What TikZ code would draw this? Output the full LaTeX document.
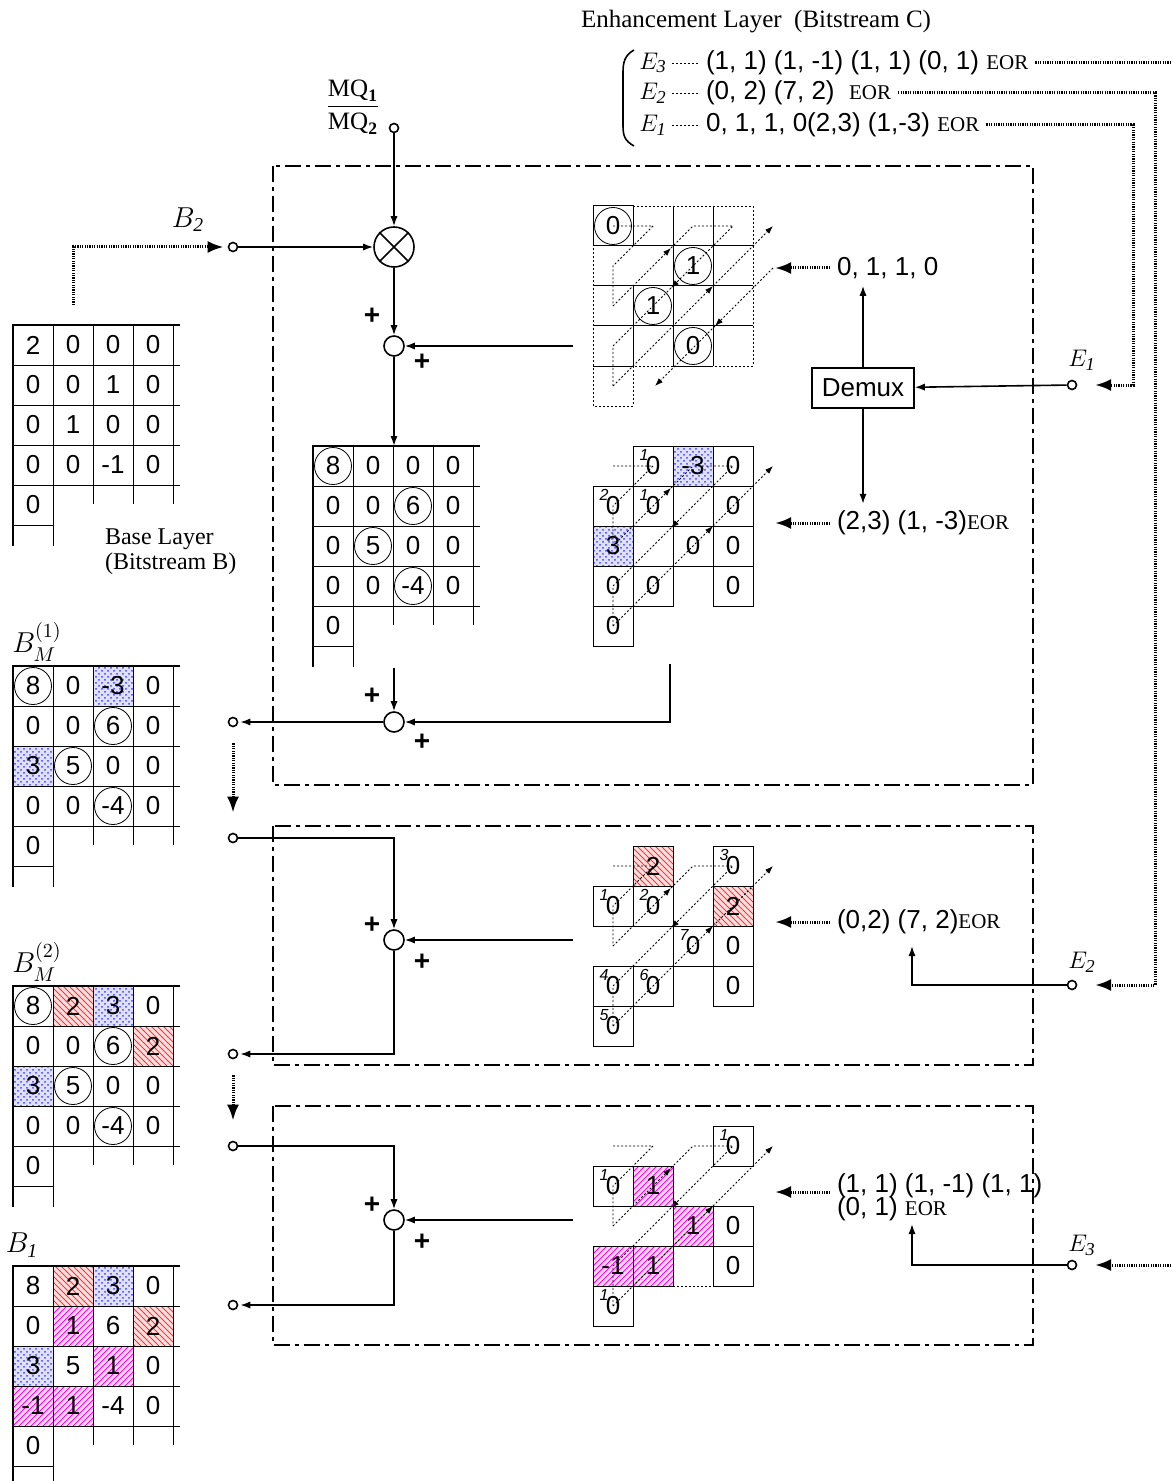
\documentclass[tikz,border=0pt]{standalone}
\usepackage{amsmath}
\usepackage{fontspec}
\setmainfont{Liberation Serif}
\newfontfamily\arial{Liberation Sans}
\usetikzlibrary{arrows.meta,calc,positioning,patterns}

\newcommand{\eor}{{\rmfamily\fontsize{10.5}{12}\selectfont EOR}}

\tikzset{
  conn/.style={line width=0.8pt},
  tip/.style={-{Latex[length=5pt,width=3.6pt]}},
  edots/.style={line width=1.5pt, dash pattern=on 0.6pt off 0.6pt},
  bigtip/.style={-{Latex[length=8pt,width=6pt]}},
  zz/.style={line width=0.4pt, dash pattern=on 1pt off 1pt},
  zztip/.style={-{Latex[length=4pt,width=2.8pt]}},
  dbox/.style={line width=0.9pt, dash pattern=on 8pt off 2.5pt on 2pt off 2.5pt},
  term/.style={circle, draw, fill=white, line width=0.8pt, inner sep=0pt, minimum size=4.5pt},
  sumc/.style={circle, draw, line width=0.8pt, minimum size=10pt, inner sep=0pt},
  plus/.style={font=\arial\bfseries\fontsize{14}{16}\selectfont, inner sep=0pt},
  numf/.style={font=\arial\fontsize{13}{15}\selectfont},
  elab/.style={font=\fontsize{13}{15}\selectfont, inner sep=0pt},
  blab/.style={font=\fontsize{14}{16}\selectfont, inner sep=0pt},
  nn/.style={numf, minimum size=20pt, inner sep=0pt},
  cc/.style={nn, circle, draw, minimum size=18.5pt},
  bb/.style={nn, draw, preaction={fill=blue!12}, pattern=crosshatch dots, pattern color=blue!75},
  rr/.style={nn, draw, preaction={fill=red!12}, pattern=north west lines, pattern color=red!80},
  mm/.style={nn, draw, preaction={fill=magenta!15}, pattern=north east lines, pattern color=magenta},
  zc/.style={nn, draw, line width=0.5pt},
  supf/.style={font=\arial\itshape\fontsize{8}{9}\selectfont, inner sep=0pt},
}

% grid of a coefficient block, top left corner at (#1,#2)
\newcommand{\matgrid}[2]{%
  \begin{scope}[shift={(#1,#2)}]
    \foreach \r in {40,80,120,160} \draw[line width=0.5pt] (0,\r) -- (167,\r);
    \draw[line width=0.5pt] (0,200) -- (40,200) (40,0) -- (40,221);
    \foreach \c in {80,120,160} \draw[line width=0.5pt] (\c,0) -- (\c,179);
    \draw[line width=1.1pt] (167,0) -- (0,0) -- (0,221);
  \end{scope}}

% values of a block: #1 name, (#2,#3) corner, #4 value/style list
\newcommand{\matvals}[4]{%
  \foreach \v/\s [count=\i from 0] in {#4}
    \node[\s] (#1-\i) at ({#2+20+40*mod(\i,4)},{#3+20+40*int(\i/4)}) {\v};}

% cells of a scanned block: #1 name, #2 top, #3 col/row/value/style/index
\newcommand{\zigcells}[3]{%
  \foreach \c/\r/\v/\s/\p [count=\i] in {#3} {
    \node[zc,\s] (#1-\i) at ({613+40*\c},{#2+20+40*\r}) {\v};
    \node[supf] (#1-s\i) at ({604+40*\c},{#2+9+40*\r}) {\p};
  }}

% zigzag scan order
\newcommand{\zigpath}[1]{%
  \begin{scope}[shift={(593,#1)}]
    \draw[zz] (20,20) -- (60,20) -- (20,60) -- (20,100);
    \draw[zz,zztip] (20,100) -- (78,42);
    \draw[zz,zztip] (78,42) -- (100,20) -- (140,20) -- (78,82);
    \draw[zz] (78,82) -- (20,140) -- (20,180);
    \draw[zz,zztip] (20,180) -- (120,80);
    \draw[zz,zztip] (120,80) -- (180,20);
  \end{scope}}

\begin{document}
\begin{tikzpicture}[x=0.5pt,y=-0.5pt]
\useasboundingbox (0,0) rectangle (1171,1481);

% Enhancement layer bitstream
\node[anchor=west, font=\fontsize{12.5}{14}\selectfont] (title) at (574,22) {Enhancement Layer \ (Bitstream C)};
\draw[line width=0.8pt] (634,50) .. controls (625,55) and (623,62) .. (623,72) -- (623,126) .. controls (623,136) and (625,141) .. (634,146);
\node[elab] (e3l) at (653,63) {$E_{\mathit 3}$};
\node[elab] (e2l) at (653,93) {$E_{\mathit 2}$};
\node[elab] (e1l) at (653,125) {$E_{\mathit 1}$};
\foreach \y in {63,93,125} \draw[zz] (672,\y) -- (700,\y);
\node[numf, anchor=west] (e3r) at (699,63) {(1, 1) (1, -1) (1, 1) (0, 1) \eor};
\node[numf, anchor=west] (e2r) at (699,93) {(0, 2) (7, 2) \ \eor};
\node[numf, anchor=west] (e1r) at (699,125) {0, 1, 1, 0(2,3) (1,-3) \eor};

% dash-dot decoder stages
\draw[dbox] (273,166) rectangle (1033,785);
\draw[dbox] (273,826) rectangle (1033,1065);
\draw[dbox] (273,1106) rectangle (1033,1345);

% quantiser ratio and multiplier
\node[font=\fontsize{12.5}{14}\selectfont] (mqf) at (353,107) {$\dfrac{\text{MQ}_{\textbf{1}}}{\text{MQ}_{\textbf{2}}}$};
\node[term] (mq) at (394,128) {};
\node[circle, draw, line width=0.8pt, minimum size=20pt, inner sep=0pt] (mul) at (394,247) {};
\draw[line width=0.8pt] (mul.north west) -- (mul.south east) (mul.north east) -- (mul.south west);
\draw[conn,tip] (mq) -- (mul);

% base layer input B2
\node[blab] (b2l) at (188,220) {$B_{\mathit 2}$};
\node[term] (b2t) at (233,247) {};
\coordinate (b2s) at (73,305);
\draw[edots,bigtip,shorten >=2pt] (b2s) |- (b2t);
\draw[conn,tip] (b2t) -- (mul);

% base layer block
\matvals{bl}{13}{325}{2/nn,0/nn,0/nn,0/nn, 0/nn,0/nn,1/nn,0/nn, 0/nn,1/nn,0/nn,0/nn, 0/nn,0/nn,-1/nn,0/nn, 0/nn}
\matgrid{13}{325}
\node[anchor=west, align=left, font=\fontsize{12}{12.5}\selectfont] (blt) at (98,552) {Base Layer\\(Bitstream B)};

% stage 1
\node[sumc] (s1) at (394,346) {};
\node[plus] (s1a) at (372,316) {+};
\node[plus] (s1b) at (422,362) {+};
\coordinate (g1r) at (573,346);
\coordinate (cm) at (394,446);
\draw[conn,tip] (mul) -- (s1);
\draw[conn,tip] (g1r) -- (s1);
\draw[conn,tip] (s1) -- (cm);

\matvals{cm}{313}{446}{8/cc,0/nn,0/nn,0/nn, 0/nn,0/nn,6/cc,0/nn, 0/nn,5/cc,0/nn,0/nn, 0/nn,0/nn,-4/cc,0/nn, 0/nn}
\matgrid{313}{446}

% significance map block
\begin{scope}[shift={(593,206)}]
  \draw[zz] (40,0) -- (160,0) -- (160,160) -- (120,160) (80,160) -- (40,160) -- (40,200) -- (0,200) -- (0,40);
  \draw[line width=0.5pt] (0,0) rectangle (40,40) (80,0) -- (80,160) (120,0) -- (120,160)
    (40,40) -- (160,40) (0,80) -- (160,80) (0,120) -- (160,120) (40,80) -- (40,160)
    (0,160) -- (40,160) (80,160) -- (120,160);
\end{scope}
\node[cc] (z1) at (613,226) {0};
\node[cc] (z2) at (693,266) {1};
\node[cc] (z3) at (653,306) {1};
\node[cc] (z4) at (693,346) {0};
\zigpath{206}
\begin{scope}[shift={(593,206)}]
  \draw[zz,zztip] (180,62) -- (122,120);
  \draw[zz,zztip] (122,120) -- (62,180);
\end{scope}

% refinement block
\zigcells{r1}{446}{1/0/0/nn/1, 2/0/-3/bb/, 3/0/0/nn/, 0/1/0/nn/2, 1/1/0/nn/1, 3/1/0/nn/, 0/2/3/bb/, 2/2/0/nn/, 3/2/0/nn/, 0/3/0/nn/, 1/3/0/nn/, 3/3/0/nn/, 0/4/0/nn/}
\zigpath{446}

% demultiplexer
\node[draw, line width=0.8pt, font=\arial\fontsize{13}{15}\selectfont, minimum width=51pt, minimum height=20pt] (dmx) at (863,388) {Demux};
\node[numf, anchor=west] (t011) at (830,268) {0, 1, 1, 0};
\node[numf, anchor=west] (t23) at (830,523) {(2,3) (1, -3)\eor};
\coordinate (a011) at (775,268);
\coordinate (a23) at (775,523);
\draw[edots,bigtip] (t011) -- (a011);
\draw[edots,bigtip] (t23) -- (a23);
\draw[conn,tip] (dmx.north) -- (dmx.north |- t011.south);
\draw[conn,tip] (dmx.south) -- (dmx.south |- t23.north);
\node[term] (e1t) at (1072,385) {};
\node[elab] (e1n) at (1082,360) {$E_{\mathit 1}$};
\draw[conn,tip] (e1t) -- (dmx);
\coordinate (e1c) at (1133,125);
\coordinate (e1a) at (1095,385);
\draw[edots,bigtip] (e1r) -- (e1c) |- (e1a);

% stage 1 output
\node[sumc] (s2) at (394,722) {};
\node[plus] (s2a) at (372,696) {+};
\node[plus] (s2b) at (422,742) {+};
\coordinate (cmb) at (394,668);
\coordinate (g2b) at (670,664);
\draw[conn,tip] (cmb) -- (s2);
\draw[conn,tip] (g2b) |- (s2);
\node[term] (o1) at (233,722) {};
\draw[conn,tip,shorten >=1pt] (s2) -- (o1);

\node[blab] (bm1l) at (37,642) {$B_M^{(1)}$};
\matvals{bm1}{13}{666}{8/cc,0/nn,-3/bb,0/nn, 0/nn,0/nn,6/cc,0/nn, 3/bb,5/cc,0/nn,0/nn, 0/nn,0/nn,-4/cc,0/nn, 0/nn}
\matgrid{13}{666}

% stage 2
\node[term] (i2) at (233,838) {};
\draw[edots,bigtip,shorten <=8pt,shorten >=10pt] (o1) -- (i2);
\node[sumc] (s3) at (394,940) {};
\node[plus] (s3a) at (372,925) {+};
\node[plus] (s3b) at (422,962) {+};
\draw[conn,tip] (i2) -| (s3);
\coordinate (g3l) at (573,940);
\draw[conn,tip] (g3l) -- (s3);
\node[term] (o2) at (233,1054) {};
\draw[conn,tip,shorten >=1pt] (s3) |- (o2);

\zigcells{r2}{846}{1/0/2/rr/, 3/0/0/nn/3, 0/1/0/nn/1, 1/1/0/nn/2, 3/1/2/rr/, 2/2/0/nn/7, 3/2/0/nn/, 0/3/0/nn/4, 1/3/0/nn/6, 3/3/0/nn/, 0/4/0/nn/5}
\zigpath{846}

\node[numf, anchor=west] (t02) at (830,922) {(0,2) (7, 2)\eor};
\coordinate (a02) at (775,922);
\draw[edots,bigtip] (t02) -- (a02);
\node[term] (e2t) at (1072,985) {};
\node[elab] (e2n) at (1082,962) {$E_{\mathit 2}$};
\coordinate (e2u) at (912,946);
\draw[conn,tip] (e2t) -| (e2u);
\coordinate (e2c) at (1155,93);
\coordinate (e2a) at (1095,985);
\draw[edots,bigtip] (e2r) -- (e2c) |- (e2a);

\node[blab] (bm2l) at (37,962) {$B_M^{(2)}$};
\matvals{bm2}{13}{986}{8/cc,2/rr,3/bb,0/nn, 0/nn,0/nn,6/cc,2/rr, 3/bb,5/cc,0/nn,0/nn, 0/nn,0/nn,-4/cc,0/nn, 0/nn}
\matgrid{13}{986}

% stage 3
\node[term] (i3) at (233,1146) {};
\draw[edots,bigtip,shorten <=8pt,shorten >=10pt] (o2) -- (i3);
\node[sumc] (s4) at (394,1220) {};
\node[plus] (s4a) at (372,1205) {+};
\node[plus] (s4b) at (422,1242) {+};
\draw[conn,tip] (i3) -| (s4);
\coordinate (g4l) at (573,1220);
\draw[conn,tip] (g4l) -- (s4);
\node[term] (o3) at (233,1305) {};
\draw[conn,tip,shorten >=1pt] (s4) |- (o3);

\zigcells{r3}{1126}{3/0/0/nn/1, 0/1/0/nn/1, 1/1/1/mm/, 2/2/1/mm/, 3/2/0/nn/, 0/3/-1/mm/, 1/3/1/mm/, 3/3/0/nn/, 0/4/0/nn/1}
\draw[zz] (673,1286) -- (713,1286);
\zigpath{1126}

\node[numf, anchor=west] (t11) at (830,1186) {(1, 1) (1, -1) (1, 1)};
\node[numf, anchor=west] (t01) at (830,1209) {(0, 1) \eor};
\coordinate (a11) at (775,1192);
\draw[edots,bigtip] (t11.west |- a11) -- (a11);
\node[term] (e3t) at (1072,1265) {};
\node[elab] (e3n) at (1082,1245) {$E_{\mathit 3}$};
\coordinate (e3u) at (912,1224);
\draw[conn,tip] (e3t) -| (e3u);
\coordinate (e3c) at (1171,63);
\coordinate (e3in) at (1171,1265);
\coordinate (e3a) at (1095,1265);
\draw[edots] (e3r) -- (e3c);
\draw[edots,bigtip] (e3in) -- (e3a);

\node[blab] (b1l) at (22,1245) {$B_{\mathit 1}$};
\matvals{b1}{13}{1266}{8/nn,2/rr,3/bb,0/nn, 0/nn,1/mm,6/nn,2/rr, 3/bb,5/nn,1/mm,0/nn, -1/mm,1/mm,-4/nn,0/nn, 0/nn}
\matgrid{13}{1266}
\end{tikzpicture}
\end{document}
